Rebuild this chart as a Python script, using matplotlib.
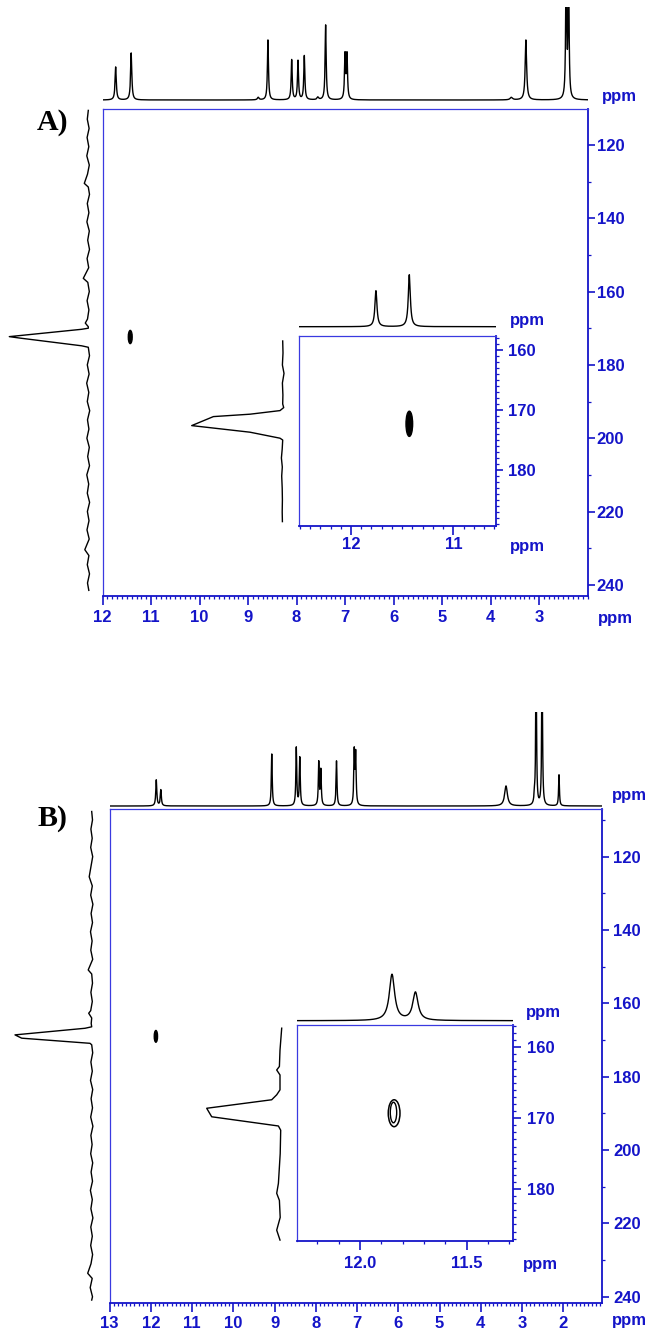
import numpy as np
import matplotlib
matplotlib.use('Agg')
import matplotlib.pyplot as plt
from matplotlib.patches import Ellipse
from matplotlib.ticker import MultipleLocator, FixedLocator

# ---------------- data ----------------
# Panel A, 1H projection (ppm, height in px, half width ppm)
a_h_ppm = [11.73, 11.41, 8.79, 8.59, 8.10, 7.97, 7.84, 7.56, 7.40, 7.00, 6.96, 3.57, 3.27, 2.44, 2.39]
a_h_int = [33, 47, 2.5, 60, 40, 39, 44, 2.5, 75, 44, 44, 2.5, 60, 140, 130]
a_h_hw = [0.015, 0.015, 0.02, 0.013, 0.013, 0.013, 0.013, 0.02, 0.013, 0.013, 0.013, 0.03, 0.018, 0.012, 0.012]
# Panel A, 13C projection (vertices: ppm, height px)
a_c_ppm = [110.6, 113.0, 115.5, 118.0, 120.5, 123.0, 125.5, 128.0, 130.5, 131.5, 133.5, 136.0, 138.5,
           141.0, 143.5, 146.0, 148.5, 151.0, 153.5, 156.4, 157.5, 160.0, 162.5, 165.0, 167.5, 168.6,
           169.6, 170.0, 170.3, 172.3, 172.7, 174.8, 175.2, 177.5, 180.0, 182.5, 185.0, 187.5, 190.0,
           192.5, 195.0, 197.5, 200.0, 202.5, 205.0, 207.5, 210.0, 212.5, 215.0, 217.5, 220.0, 222.5,
           225.0, 227.5, 230.4, 232.0, 234.5, 237.0, 239.5, 241.5]
a_c_int = [0.0, 1.0, -0.8, 1.2, -0.5, 1.5, -1.0, 0.8, 4.0, 0.0, -1.2, 1.0, -0.6,
           1.4, -1.0, 0.6, -1.2, 1.2, -0.4, 5.0, 0.5, -1.0, 1.2, -0.6, 0.8, 3.0,
           0.0, 0.0, 6.7, 79.0, 68.3, 6.7, 0.0, -1.2, 1.0, -0.8, 1.6, -0.5, 1.0,
           -1.4, 0.8, -0.6, 1.4, -1.0, 0.6, -1.2, 1.5, -0.4, 1.0, -1.3, 0.9, -0.7,
           1.3, -0.9, 3.5, -0.6, 1.0, -1.2, 0.8, -0.5]
# Panel A inset
ai_h_ppm = [11.756, 11.43]
ai_h_int = [36, 52]
ai_h_hw = [0.012, 0.012]
ai_c_ppm = [158.5, 160.5, 162.5, 163.9, 165.5, 167.5, 169.0, 169.6, 170.1, 170.7, 171.1, 172.6,
            173.7, 174.7, 175.0, 176.5, 178.0, 179.5, 181.0, 183.0, 185.0, 187.0, 188.6]
ai_c_int = [0.0, -0.3, 0.3, -1.3, 0.3, -0.2, 0.0, -1.0, 2.7, 32.7, 69.3, 91.0,
            32.7, 2.7, 0.0, 0.5, 1.3, 0.4, 1.0, 0.5, 0.3, 0.5, 0.3]
# cross peaks A: (1H ppm, 13C ppm, width ppm, height ppm)
a_xpk = (11.43, 172.4, 0.08, 3.6)
ai_xpk = (11.43, 172.3, 0.065, 4.2)

# Panel B, 1H projection
b_h_ppm = [11.87, 11.76, 9.07, 8.475, 8.39, 7.93, 7.88, 7.50, 7.07, 7.035, 3.39, 2.70, 2.66, 2.515, 2.105]
b_h_int = [26, 16, 52, 58, 48, 43, 35, 45, 53, 50, 20, 8, 150, 150, 31]
b_h_hw = [0.015, 0.015, 0.013, 0.013, 0.013, 0.013, 0.013, 0.013, 0.013, 0.013, 0.04, 0.012, 0.012, 0.012, 0.012]
# Panel B, 13C projection
b_c_ppm = [107.7, 110.0, 112.5, 115.0, 117.5, 120.0, 122.5, 125.5, 128.0, 130.5, 133.0, 135.5, 138.0,
           140.5, 143.0, 145.5, 148.0, 150.9, 152.0, 154.5, 157.0, 159.5, 162.0, 162.7, 164.0, 165.5,
           166.4, 166.8, 168.6, 169.5, 170.9, 171.3, 173.5, 176.0, 178.5, 181.0, 183.5, 186.0, 188.5,
           191.0, 193.5, 196.0, 198.5, 201.0, 203.5, 206.0, 208.5, 211.0, 213.5, 216.0, 218.5, 221.0,
           223.5, 226.0, 228.5, 231.0, 233.6, 235.0, 237.5, 240.0, 240.9]
b_c_int = [0.0, -0.8, 0.8, -0.5, 1.0, -1.0, 0.6, 2.5, -0.6, 1.0, -1.2, 0.6, -0.8,
           1.2, -0.4, 0.9, -1.0, 3.5, 0.0, -0.8, 0.8, -0.6, 1.0, 3.0, 0.0, 0.5,
           0.0, 6.7, 76.7, 70.0, 1.7, 0.0, -1.0, 0.8, -0.6, 1.2, -1.0, 0.6, -0.8,
           1.0, -1.2, 0.8, -0.4, 1.0, -1.0, 0.6, -0.8, 1.3, -0.6, 0.8, -1.2, 0.9,
           -0.6, 1.0, -0.9, 0.7, 4.0, -0.5, 1.5, -0.8, 0.0]
# Panel B inset
bi_h_ppm = [11.85, 11.74]
bi_h_int = [46, 28]
bi_h_hw = [0.015, 0.015]
bi_c_ppm = [157.3, 160.4, 162.7, 163.2, 163.9, 166.0, 166.7, 167.4, 168.6, 169.8, 171.1, 171.7,
            175.0, 179.2, 180.6, 181.6, 184.0, 185.8, 187.2]
bi_c_int = [0.0, 1.7, 2.3, 5.0, 1.7, 1.7, 5.0, 10.0, 75.0, 70.0, 3.3, 1.0,
            1.5, 3.3, 5.0, 2.3, 1.5, 5.0, 1.7]
b_xpk = (11.88, 169.0, 0.08, 3.2)
bi_xpk_outer = (11.84, 169.3, 0.055, 3.8)
bi_xpk_inner = (11.843, 169.2, 0.03, 2.9)

# tick labels
a_xticks = [12, 11, 10, 9, 8, 7, 6, 5, 4, 3]
b_xticks = [13, 12, 11, 10, 9, 8, 7, 6, 5, 4, 3, 2]
c_yticks = [120, 140, 160, 180, 200, 220, 240]
ai_xticks = [12, 11]
bi_xticks = [12.0, 11.5]
bi_xticklabels = ['12.0', '11.5']
in_yticks = [160, 170, 180]

# ---------------- drawing ----------------
W, H = 651, 1334
fig = plt.figure(figsize=(W / 100, H / 100), dpi=100)
BLUE = '#1414c8'
FRAME = '#3a3ae0'
SANS = ['Liberation Sans', 'DejaVu Sans']
FS = 12


def px_axes(x0, y0, x1, y1):
    ax = fig.add_axes([x0 / W, 1 - y1 / H, (x1 - x0) / W, (y1 - y0) / H])
    ax.set_facecolor('none')
    return ax


def lorentz(grid, pos, hts, hws):
    y = np.zeros_like(grid)
    for p, h, g in zip(pos, hts, hws):
        y += h * g ** 2 / ((grid - p) ** 2 + g ** 2)
    return y


def spectrum(x0, x1, ytop, ybase, xlim, pos, hts, hws):
    ax = px_axes(x0, ytop, x1, ybase + 3)
    grid = np.linspace(min(xlim), max(xlim), 12000)
    ax.plot(grid, lorentz(grid, pos, hts, hws), color='k', lw=1.0)
    ax.set_xlim(*xlim)
    ax.set_ylim(-3, ybase - ytop)
    ax.axis('off')
    return ax


def projection(x0, x1, y0, y1, xbase, ylim, c13, inten):
    ax = px_axes(x0, y0, x1, y1)
    ax.plot(-np.asarray(inten, dtype=float), c13, color='k', lw=1.0)
    ax.set_xlim(x0 - xbase, x1 - xbase)
    ax.set_ylim(*ylim)
    ax.axis('off')
    return ax


def frame(x0, y0, x1, y1, xlim, ylim, xt, xtl, xminor, yt, yminor,
          xlen, ylen, xpad, ypad):
    ax = px_axes(x0, y0, x1, y1)
    ax.set_xlim(*xlim)
    ax.set_ylim(*ylim)
    ax.xaxis.set_major_locator(FixedLocator(xt))
    ax.set_xticklabels(xtl)
    ax.xaxis.set_minor_locator(MultipleLocator(xminor))
    ax.yaxis.tick_right()
    ax.yaxis.set_major_locator(FixedLocator(yt))
    ax.set_yticklabels([str(v) for v in yt])
    ax.yaxis.set_minor_locator(MultipleLocator(yminor))
    ax.tick_params(which='both', direction='out', colors=BLUE)
    ax.tick_params(axis='x', which='major', length=xlen, width=1.2, pad=xpad)
    ax.tick_params(axis='x', which='minor', length=2.2, width=0.9)
    ax.tick_params(axis='y', which='major', length=ylen, width=1.2, pad=ypad)
    ax.tick_params(axis='y', which='minor', length=2.0, width=0.9)
    for t in ax.get_xticklabels() + ax.get_yticklabels():
        t.set_fontfamily(SANS)
        t.set_fontweight('bold')
        t.set_fontsize(FS)
        t.set_color(BLUE)
    for s in ('top', 'left'):
        ax.spines[s].set_color(FRAME)
        ax.spines[s].set_linewidth(0.9)
    for s in ('bottom', 'right'):
        ax.spines[s].set_color(BLUE)
        ax.spines[s].set_linewidth(1.3)
    return ax


def ppm_text(x, y):
    fig.text(x / W, 1 - y / H, 'ppm', ha='center', va='center', color=BLUE,
             fontsize=FS, fontweight='bold', family=SANS)


def blob(ax, pk, filled=True, lw=1.0):
    e = Ellipse((pk[0], pk[1]), pk[2], pk[3], facecolor='k' if filled else 'none',
                edgecolor='k', lw=lw)
    ax.add_patch(e)

# ---------- Panel A ----------
A_X0, A_X1, A_Y0, A_Y1 = 102.6, 587.5, 109.3, 595.5
A_XL = (12.0, 2.0)
A_YL = (242.9, 110.3)
axA = frame(A_X0, A_Y0, A_X1, A_Y1, A_XL, A_YL, a_xticks, [str(v) for v in a_xticks], 0.1,
            c_yticks, 10, xlen=6.5, ylen=5, xpad=4.0, ypad=1.6)
blob(axA, a_xpk)
spectrum(A_X0, A_X1, 7, 100, A_XL, a_h_ppm, a_h_int, a_h_hw)
projection(0, 96, A_Y0, A_Y1, 88.3, A_YL, a_c_ppm, a_c_int)
ppm_text(619, 96)
ppm_text(615, 619)

AI_X0, AI_X1, AI_Y0, AI_Y1 = 299.3, 496, 335.7, 526
AI_XL = (12.505, 10.583)
AI_YL = (189.33, 157.62)
axAI = frame(AI_X0, AI_Y0, AI_X1, AI_Y1, AI_XL, AI_YL, ai_xticks, [str(v) for v in ai_xticks], 0.1,
             in_yticks, 1, xlen=6.5, ylen=4.8, xpad=1.5, ypad=4.0)
blob(axAI, ai_xpk)
spectrum(AI_X0, AI_X1, 268, 326.7, AI_XL, ai_h_ppm, ai_h_int, ai_h_hw)
projection(185, 292, AI_Y0, AI_Y1, 282.7, AI_YL, ai_c_ppm, ai_c_int)
ppm_text(527, 321)
ppm_text(527, 547)

fig.text(53 / W, 1 - 123 / H, 'A)', ha='center', va='center', fontsize=21.5,
         fontweight='bold', family=['Liberation Serif', 'DejaVu Serif'], color='k')

# ---------- Panel B ----------
B_X0, B_X1, B_Y0, B_Y1 = 109.7, 601.7, 809.3, 1303
B_XL = (13.0, 1.07)
B_YL = (241.7, 107.1)
axB = frame(B_X0, B_Y0, B_X1, B_Y1, B_XL, B_YL, b_xticks, [str(v) for v in b_xticks], 0.1,
            c_yticks, 10, xlen=6.5, ylen=5.2, xpad=2.5, ypad=3.0)
blob(axB, b_xpk)
spectrum(B_X0, B_X1, 712, 806, B_XL, b_h_ppm, b_h_int, b_h_hw)
projection(0, 100, B_Y0, B_Y1, 91.7, B_YL, b_c_ppm, b_c_int)
ppm_text(629, 796)
ppm_text(629, 1321)

BI_X0, BI_X1, BI_Y0, BI_Y1 = 296.7, 513.3, 1025, 1241
BI_XL = (12.297, 11.281)
BI_YL = (187.33, 156.85)
axBI = frame(BI_X0, BI_Y0, BI_X1, BI_Y1, BI_XL, BI_YL, bi_xticks, bi_xticklabels, 0.1,
             in_yticks, 1, xlen=6.5, ylen=6.0, xpad=4.0, ypad=3.6)
blob(axBI, bi_xpk_outer, filled=False, lw=1.1)
blob(axBI, bi_xpk_inner, filled=False, lw=1.0)
spectrum(BI_X0, BI_X1, 962, 1020.7, BI_XL, bi_h_ppm, bi_h_int, bi_h_hw)
projection(190, 292, BI_Y0, BI_Y1, 281.7, BI_YL, bi_c_ppm, bi_c_int)
ppm_text(543, 1013)
ppm_text(540, 1265)

fig.text(52 / W, 1 - 819 / H, 'B)', ha='center', va='center', fontsize=21.5,
         fontweight='bold', family=['Liberation Serif', 'DejaVu Serif'], color='k')

fig.savefig('out.png', dpi=100)
